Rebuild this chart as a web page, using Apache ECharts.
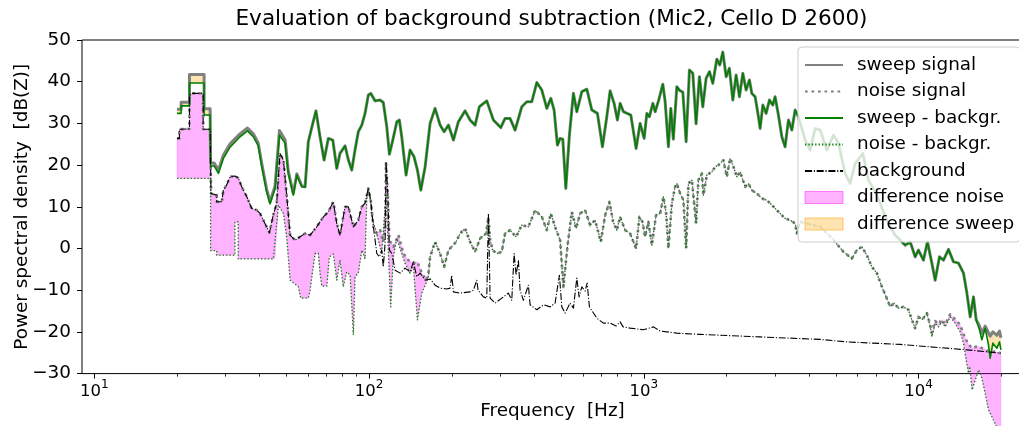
<!DOCTYPE html>
<html>
<head>
<meta charset="utf-8">
<script src="https://cdn.jsdelivr.net/npm/echarts@6/dist/echarts.min.js"></script>
<style>
  html, body { margin: 0; padding: 0; background: #fff; }
  #chart { width: 1019px; height: 426px; }
</style>
</head>
<body>
<div id="chart"></div>
<script>
// ---- Sweep recording: low band (signal and background-corrected differ) ----
const sweepLowFreq = [20.0, 20.7, 20.7, 22.2, 22.2, 25.1, 25.1, 26.4, 26.5, 27.3,
  28.3, 29.5, 31.2, 33.9, 36.1, 37.9, 39.5, 40.7, 42.4, 43.6,
  45.5, 47.2, 49.5, 50.8, 53.0, 54.6, 56.9, 58.5];
const sweepSigLow = [33.4, 33.4, 35.1, 35.1, 41.7, 41.7, 33.5, 33.5, 20.5, 20.5,
  18.8, 22.4, 25.1, 27.5, 28.9, 27.5, 25.3, 20.3, 14.2, 11.2,
  15.0, 28.3, 26.0, 18.6, 13.2, 17.9, 15.0, 14.8];
const sweepBgLow = [32.4, 32.4, 34.2, 34.2, 39.7, 39.7, 32.0, 32.0, 19.8, 19.8,
  18.0, 21.6, 24.3, 26.8, 28.2, 26.8, 24.6, 19.6, 13.6, 10.7,
  14.4, 27.2, 25.2, 18.0, 12.8, 17.6, 14.8, 14.7];

// ---- Sweep: mid band, signal and corrected curve coincide ----
const sweepMidFreq = [60.1, 62.4, 64.1, 66.3, 68.6, 71.1, 73.8, 76.3, 78.4, 81.8,
  84.1, 86.5, 88.9, 91.4, 94.1, 96.7, 99.4, 101.4, 105.2, 109.7,
  112.7, 116.0, 118.6, 122.0, 126.2, 128.9, 131.5, 136.4, 141.0, 145.8,
  150.0, 154.3, 160.0, 166.8, 173.9, 181.4, 187.6, 194.5, 202.8, 211.4,
  223.6, 233.2, 243.2, 252.1, 268.2, 283.5, 301.6, 312.6, 326.0, 340.1,
  359.7, 375.1, 391.2, 407.9, 425.4, 443.6, 458.8, 471.6, 484.8, 495.9,
  507.3, 520.2, 536.1, 554.4, 570.4, 594.9, 620.4, 647.0, 678.0, 707.1,
  733.5, 754.1, 779.8, 801.7, 820.1, 843.1, 896.9, 937.6, 969.6, 1003,
  1026, 1048, 1079, 1100, 1131, 1173, 1196, 1229, 1254, 1281,
  1319, 1350, 1387, 1426, 1466, 1508, 1550, 1594, 1640, 1686,
  1734, 1783, 1844, 1891, 1939, 1994, 2049, 2109, 2168, 2229,
  2293, 2357, 2424, 2473, 2542, 2614, 2651, 2712, 2788, 2866,
  2949, 3006, 3090, 3180, 3268, 3361, 3458, 3555, 3655, 3866,
  4032, 4205, 4385, 4639, 4902, 5110, 5405, 5637, 5880, 6271,
  6572, 7053, 7452, 7771, 8220, 8575, 8940, 9322, 9721, 9993,
  10420, 10777, 11180, 11495, 11918, 12323, 12853, 13403, 13976, 14573,
  14996, 15416, 15849];
const sweepMidDb = [25.6, 30.0, 33.0, 26.8, 21.2, 26.4, 26.0, 19.2, 22.8, 24.6,
  21.2, 18.8, 23.6, 28.0, 29.6, 32.4, 36.8, 37.2, 35.4, 35.6,
  35.0, 29.2, 22.6, 26.0, 30.4, 30.8, 26.8, 17.6, 23.6, 22.0,
  18.8, 14.0, 19.6, 30.0, 33.6, 29.6, 28.0, 29.6, 26.0, 30.4,
  33.0, 30.8, 29.6, 34.0, 35.4, 30.8, 29.0, 31.2, 31.2, 28.4,
  34.0, 35.2, 35.2, 39.8, 38.0, 33.6, 36.0, 33.2, 24.8, 26.4,
  26.2, 14.4, 27.2, 37.2, 32.8, 37.6, 38.2, 33.2, 32.4, 24.4,
  31.6, 37.8, 34.8, 30.8, 34.8, 32.8, 32.0, 24.0, 30.0, 26.4,
  32.4, 31.6, 34.8, 32.8, 35.4, 39.4, 35.2, 24.4, 33.6, 26.2,
  38.8, 37.9, 37.5, 25.6, 42.8, 42.0, 29.9, 41.2, 34.0, 40.8,
  42.4, 39.6, 45.4, 44.0, 47.1, 41.2, 43.2, 35.6, 41.6, 36.4,
  42.0, 38.0, 40.4, 37.2, 36.4, 31.6, 28.8, 34.4, 32.4, 35.6,
  34.4, 36.4, 32.0, 26.8, 24.4, 30.8, 28.4, 33.2, 31.6, 26.0,
  23.6, 28.8, 28.4, 23.6, 27.2, 25.3, 18.0, 15.6, 20.4, 22.8,
  16.4, 12.8, 8.8, 6.0, 3.2, 2.0, 0.8, 1.6, -2.0, -0.4,
  -2.8, 1.6, -3.5, -7.6, -2.0, -2.8, -0.2, -3.2, -3.5, -5.9,
  -10.7, -16.4, -11.6];

// ---- Sweep: top band ----
const sweepHighFreq = [16211, 16665, 17005, 17481, 17971, 18230, 18647, 19285, 19711, 19945];
const sweepSigHigh = [-17.1, -18.6, -20.3, -18.6, -20.2, -21.0, -20.0, -20.8, -19.8, -21.4];
const sweepBgHigh = [-17.1, -19.5, -21.9, -19.1, -23.1, -26.3, -22.7, -23.9, -22.4, -24.3];

// ---- Noise recording: low band ----
const noiseSigLowFreq = [20.0, 20.4, 20.4, 22.2, 22.2, 22.6, 24.9, 24.9, 26.4, 26.6,
  26.8, 27.9, 27.9, 29.1, 29.5, 30.3, 31.2, 32.5, 33.4, 34.4,
  35.9, 37.4, 39.0, 40.1, 41.8, 43.4, 44.8, 46.1, 47.4, 48.8,
  50.2, 51.6, 53.8, 56.1, 58.5, 61.0, 64.5, 68.2, 71.1, 74.1,
  76.3, 78.4, 81.8, 84.1, 87.7, 91.4, 94.1, 96.7, 99.4, 101.4,
  103.7, 106.7, 109.7, 112.7, 114.4, 115.3, 117.0, 118.6, 122.6, 127.9,
  133.4, 139.0, 145.0, 150.0, 155.6, 161.3, 164.4];
const noiseSigLowDb = [26.4, 26.4, 28.6, 28.7, 36.6, 37.2, 37.2, 28.6, 28.6, 13.2,
  12.8, 12.8, 11.2, 11.2, 14.0, 15.2, 17.2, 17.4, 16.9, 14.8,
  12.4, 9.6, 9.2, 8.4, 6.0, 3.8, 8.0, 10.8, 22.8, 21.2,
  12.4, 3.2, 2.0, 2.8, 3.6, 3.2, 5.2, 7.6, 8.8, 11.2,
  6.0, 3.2, 10.0, 10.0, 5.2, 6.8, 10.0, 10.9, 14.4, 11.6,
  5.2, 3.6, 4.4, 1.6, 4.4, 20.4, 12.8, 2.0, 0.4, 3.2,
  -1.2, -2.8, -3.5, -3.2, -5.9, -7.6, -6.0];
const noiseBgLowFreq = [20.0, 26.5, 26.5, 27.9, 27.9, 32.5, 32.5, 33.4, 33.4, 44.8,
  45.5, 46.8, 48.8, 50.2, 51.6, 55.3, 56.4, 60.1, 61.0, 63.6,
  65.4, 66.3, 67.3, 70.2, 71.7, 74.1, 76.3, 78.4, 80.6, 82.9,
  85.3, 87.7, 88.9, 91.4, 94.1, 96.7, 98.1, 99.4, 101.4, 102.3,
  106.7, 111.2, 115.3, 119.9, 122.6, 126.2, 131.5, 135.2, 141.0, 145.0,
  150.0, 155.6, 161.3, 164.4];
const noiseBgLowDb = [16.8, 16.8, -0.5, -0.5, -1.6, -1.6, 6.4, 6.4, -2.5, -2.5,
  -2.4, 10.4, 8.4, 2.4, -7.6, -9.2, -11.9, -11.9, -10.0, -1.2,
  -1.2, -5.9, -9.0, -9.0, -2.0, -1.3, -7.6, -2.8, -9.2, -5.6,
  -6.4, -20.7, -6.8, -5.9, -0.4, -2.4, 11.6, 14.4, 10.9, 7.6,
  3.6, -1.2, 13.0, -14.0, -2.0, 2.4, -1.2, -3.5, -5.9, -4.4,
  -17.1, -10.7, -8.3, -6.8];

// ---- Noise: mid band, signal and corrected curve coincide ----
const noiseMidFreq = [166.8, 173.9, 181.4, 187.6, 194.5, 207.4, 214.4, 223.6, 233.2, 243.2,
  253.6, 266.6, 271.9, 275.8, 282.0, 291.6, 304.1, 312.6, 326.0, 343.0,
  359.7, 380.2, 402.2, 425.4, 443.6, 458.8, 475.5, 495.9, 509.9, 527.2,
  547.0, 567.0, 586.4, 611.6, 637.8, 665.0, 697.5, 723.3, 749.8, 773.4,
  797.8, 820.1, 855.1, 891.8, 937.6, 963.9, 988.5, 1011, 1039, 1070,
  1108, 1147, 1179, 1206, 1229, 1265, 1300, 1319, 1356, 1394,
  1426, 1454, 1496, 1550, 1580, 1627, 1648, 1696, 1769, 1819,
  1869, 1949, 2005, 2062, 2120, 2181, 2242, 2338, 2403, 2473,
  2579, 2690, 2804, 2924, 3049, 3135, 3268, 3409, 3555, 3606,
  3707, 3922, 4385, 4836, 5331, 5717, 5965, 6220, 6484, 6761,
  7053, 7355, 7624, 7884, 8152, 8451, 8814, 9191, 9456, 9721,
  9993, 10309, 10722];
const noiseMidDb = [-2.0, 1.6, -1.2, -4.4, -0.4, 1.6, 3.6, 4.8, 1.6, -0.8,
  2.4, 3.6, 7.5, 2.0, -0.4, -1.2, -0.8, 3.6, 4.4, 2.8,
  5.6, 5.2, 9.2, 7.6, 4.4, 8.4, 5.2, 2.0, -9.2, 0.4,
  8.8, 4.8, 8.4, 9.2, 5.6, 6.8, 1.6, 8.0, 11.2, 6.4,
  4.4, 7.6, 4.4, 3.6, 0.0, 7.6, 6.4, 2.8, 6.4, 0.8,
  8.0, 8.4, 12.4, 8.4, 0.0, 10.8, 14.8, 15.6, 13.2, 11.6,
  0.0, 15.6, 16.4, 6.0, 16.4, 18.0, 12.8, 17.6, 18.4, 19.6,
  20.0, 21.2, 17.2, 21.6, 19.6, 17.2, 18.4, 14.8, 15.6, 14.0,
  13.2, 12.0, 11.6, 10.4, 9.2, 8.4, 7.2, 6.8, 6.0, 3.6,
  6.4, 6.0, 5.2, 2.5, -0.8, -2.4, -0.4, 0.4, -1.6, -4.4,
  -5.9, -9.2, -11.6, -14.0, -13.1, -14.3, -14.0, -14.7, -17.1, -19.1,
  -16.4, -17.1, -15.5];

// ---- Noise: top band ----
const noiseHighFreq = [11025, 11180, 11495, 11817, 12158, 12499, 13034, 13593, 14174, 14573,
  14906, 15197, 15349, 15674, 16073, 16566, 17005, 17481, 17971, 18475,
  18978, 19493, 19945];
const noiseSigHigh = [-18.3, -20.2, -17.4, -18.2, -17.0, -18.2, -15.8, -17.0, -18.3, -20.5,
  -21.9, -23.0, -23.4, -23.9, -23.6, -23.5, -23.9, -24.2, -24.7, -24.7,
  -24.8, -25.0, -25.1];
const noiseBgHigh = [-18.8, -21.2, -17.9, -18.8, -17.6, -18.8, -16.4, -17.9, -20.0, -22.7,
  -26.7, -29.9, -28.3, -33.9, -31.6, -29.1, -31.1, -34.7, -38.7, -40.3,
  -41.9, -43.5, -45.0];

// ---- Background (below ~100 Hz it follows the noise-signal points) ----
const bgUpperFreq = [103.7, 106.7, 109.0, 111.2, 112.7, 114.4, 115.3, 117.0, 118.6, 121.0,
  124.4, 129.7, 135.2, 141.0, 145.0, 149.2, 153.4, 160.0, 166.8, 173.9,
  181.4, 191.8, 197.2, 200.0, 202.8, 214.4, 233.2, 239.8, 246.7, 249.4,
  260.7, 268.2, 271.9, 275.8, 287.6, 304.1, 321.4, 330.7, 337.3, 343.0,
  349.6, 354.6, 364.6, 380.2, 385.6, 407.9, 431.2, 456.1, 475.5, 493.0,
  503.0, 517.1, 539.2, 554.4, 570.4, 581.5, 594.9, 611.6, 622.0, 634.0,
  674.6, 712.8, 754.1, 793.1, 820.1, 841.2, 891.8, 996.8, 1084, 1147,
  1319, 1603, 2651, 4385, 5483, 8575, 14996, 19945];
const bgUpperDb = [5.2, -1.2, -2.0, -0.4, -4.4, 1.2, 20.8, 13.2, -0.4, -1.2,
  -5.2, -5.9, -4.7, -5.6, -3.2, -6.8, -5.9, -7.6, -7.3, -8.8,
  -9.5, -9.7, -9.5, -6.4, -10.4, -10.7, -10.4, -10.0, -7.6, -10.0,
  -11.6, -11.9, 8.4, -11.9, -13.1, -11.9, -10.7, -12.4, -1.2, -6.4,
  -2.8, -10.0, -12.4, -8.8, -13.5, -14.7, -13.5, -14.0, -13.1, -6.4,
  -14.0, -15.5, -13.1, -14.3, -7.1, -11.6, -9.2, -10.2, -8.3, -14.0,
  -16.7, -17.9, -17.9, -18.6, -17.6, -18.8, -19.1, -19.5, -18.8, -19.8,
  -20.3, -20.6, -21.2, -21.8, -22.4, -23.0, -24.3, -25.1];

// ---- Axis ticks ----
const xMinHz = 9.02, xMaxHz = 24000;
const xMajorExp = [1, 2, 3, 4];
const xMinorHz = [20, 30, 40, 50, 60, 70, 80, 90, 200, 300, 400, 500, 600, 700, 800, 900,
  2000, 3000, 4000, 5000, 6000, 7000, 8000, 9000, 20000];
const yMin = -30, yMax = 50, yStep = 10;

// ---- Build point lists (x in log10 Hz) ----
const FONT = 'DejaVu Sans';
const FS = 18.4;
const lg = Math.log10;
const pts = (fs, ds) => fs.map((f, i) => [lg(f), ds[i]]);

const sweepSignal = pts([...sweepLowFreq, ...sweepMidFreq, ...sweepHighFreq],
                        [...sweepSigLow, ...sweepMidDb, ...sweepSigHigh]);
const sweepCorr = pts([...sweepLowFreq, ...sweepMidFreq, ...sweepHighFreq],
                      [...sweepBgLow, ...sweepMidDb, ...sweepBgHigh]);
const noiseSignal = pts([...noiseSigLowFreq, ...noiseMidFreq, ...noiseHighFreq],
                        [...noiseSigLowDb, ...noiseMidDb, ...noiseSigHigh]);
const noiseCorr = pts([...noiseBgLowFreq, ...noiseMidFreq, ...noiseHighFreq],
                      [...noiseBgLowDb, ...noiseMidDb, ...noiseBgHigh]);
const background = pts([...noiseSigLowFreq.slice(0, 50), ...bgUpperFreq],
                       [...noiseSigLowDb.slice(0, 50), ...bgUpperDb]);

// filled band between two curves, mapped through the grid's scales
function band(upper, lower, fill, stroke) {
  return function (params, api) {
    const poly = upper.map(p => api.coord(p))
      .concat(lower.slice().reverse().map(p => api.coord(p)));
    return {
      type: 'polygon',
      shape: { points: poly },
      style: { fill: fill, stroke: stroke, lineWidth: 0.6 }
    };
  };
}

const PINK = 'rgba(255,0,255,0.3)';
const ORANGE = 'rgba(255,165,0,0.3)';
const NO_MARKER = { opacity: 0 };

const lineBase = {
  type: 'line', symbol: 'none', showSymbol: false, animation: false,
  silent: true, emphasis: { disabled: true }, z: 2
};

const chart = echarts.init(document.getElementById('chart'), null, { renderer: 'canvas' });

const gridBox = { left: 82, right: -4, top: 40, bottom: 52.4, outerBoundsMode: 'none', containLabel: false };

chart.setOption({
  animation: false,
  backgroundColor: '#ffffff',
  textStyle: { fontFamily: FONT },
  graphic: [{
    type: 'text', x: 551.5, y: 19, silent: true,
    style: {
      text: 'Evaluation of background subtraction (Mic2, Cello D 2600)',
      fontSize: 21.6, fontFamily: FONT, fill: '#000',
      align: 'center', verticalAlign: 'middle'
    }
  }],
  grid: [
    Object.assign({ show: true, borderColor: '#000', borderWidth: 1, backgroundColor: 'transparent' }, gridBox),
    Object.assign({ show: false }, gridBox)
  ],
  legend: {
    orient: 'vertical', left: 798, top: 47,
    padding: [9, 6, 9, 6], itemGap: 8.5, itemWidth: 38, itemHeight: 12,
    backgroundColor: 'rgba(255,255,255,0.8)', borderColor: '#cccccc', borderWidth: 1, borderRadius: 4,
    selectedMode: false,
    textStyle: { fontSize: FS, fontFamily: FONT, color: '#000', lineHeight: 16, padding: [0, 0, 0, 9] },
    data: [
      { name: 'sweep signal', itemStyle: NO_MARKER },
      { name: 'noise signal', itemStyle: NO_MARKER },
      { name: 'sweep - backgr.', itemStyle: NO_MARKER },
      { name: 'noise - backgr.', itemStyle: NO_MARKER },
      { name: 'background', itemStyle: NO_MARKER },
      { name: 'difference noise', icon: 'rect', itemStyle: { color: PINK, borderColor: 'rgba(255,0,255,0.45)', borderWidth: 1 } },
      { name: 'difference sweep', icon: 'rect', itemStyle: { color: ORANGE, borderColor: 'rgba(255,165,0,0.55)', borderWidth: 1 } }
    ]
  },
  xAxis: [{
    type: 'value', gridIndex: 0, min: lg(xMinHz), max: lg(xMaxHz),
    axisLine: { show: false, onZero: false }, splitLine: { show: false },
    axisTick: { customValues: xMajorExp, length: 5, lineStyle: { color: '#000', width: 1 } },
    axisLabel: {
      customValues: xMajorExp, margin: 5, color: '#000',
      formatter: v => '{b|10}{s|' + Math.round(v) + '}',
      rich: {
        b: { fontSize: 16.5, fontFamily: FONT, color: '#000', lineHeight: 22, verticalAlign: 'bottom' },
        s: { fontSize: 12, fontFamily: FONT, color: '#000', lineHeight: 12, verticalAlign: 'top' }
      }
    },
    name: 'Frequency  [Hz]', nameLocation: 'middle', nameGap: 29, nameMoveOverlap: false,
    nameTextStyle: { fontSize: FS, fontFamily: FONT, color: '#000' }
  }, {
    type: 'value', gridIndex: 1, min: lg(xMinHz), max: lg(xMaxHz),
    axisLine: { show: false, onZero: false }, splitLine: { show: false }, axisLabel: { show: false },
    axisTick: { customValues: xMinorHz.map(lg), length: 3, lineStyle: { color: '#000', width: 0.8 } }
  }],
  yAxis: [{
    type: 'value', gridIndex: 0, min: yMin, max: yMax, interval: yStep,
    axisLine: { show: false, onZero: false }, splitLine: { show: false },
    axisTick: { show: true, length: 5, lineStyle: { color: '#000', width: 1 } },
    axisLabel: {
      fontSize: FS, fontFamily: FONT, color: '#000', margin: 11,
      formatter: v => String(v).replace('-', '\u2212')
    },
    name: 'Power spectral density  [dB(Z)]', nameLocation: 'middle', nameGap: 51, nameRotate: 90,
    nameMoveOverlap: false,
    nameTextStyle: { fontSize: FS, fontFamily: FONT, color: '#000' }
  }, {
    type: 'value', gridIndex: 1, min: yMin, max: yMax, show: false
  }],
  series: [
    {
      name: 'difference noise', type: 'custom', xAxisIndex: 0, yAxisIndex: 0,
      clip: false, silent: true, z: 1, itemStyle: { color: PINK },
      data: [[lg(100), 0]],
      renderItem: band(noiseSignal, noiseCorr, PINK, 'rgba(255,0,255,0.25)')
    },
    {
      name: 'difference sweep', type: 'custom', xAxisIndex: 0, yAxisIndex: 0,
      clip: false, silent: true, z: 1, itemStyle: { color: ORANGE },
      data: [[lg(100), 0]],
      renderItem: band(sweepSignal, sweepCorr, ORANGE, 'rgba(255,165,0,0.25)')
    },
    Object.assign({}, lineBase, {
      name: 'sweep signal', data: sweepSignal,
      itemStyle: { color: '#808080' },
      lineStyle: { color: '#808080', width: 3, join: 'round' }
    }),
    Object.assign({}, lineBase, {
      name: 'noise signal', data: noiseSignal,
      itemStyle: { color: '#808080' },
      lineStyle: { color: '#808080', width: 2.7, type: [2.7, 3.8], join: 'round' }
    }),
    Object.assign({}, lineBase, {
      name: 'sweep - backgr.', data: sweepCorr,
      itemStyle: { color: '#008000' },
      lineStyle: { color: '#008000', width: 1.6, join: 'round' }
    }),
    Object.assign({}, lineBase, {
      name: 'noise - backgr.', data: noiseCorr, clip: false,
      itemStyle: { color: '#008000' },
      lineStyle: { color: '#008000', width: 1.3, type: [1.3, 2.1], join: 'round' }
    }),
    Object.assign({}, lineBase, {
      name: 'background', data: background,
      itemStyle: { color: '#000' },
      lineStyle: { color: '#000', width: 1.1, type: [7, 1.8, 1.1, 1.8], join: 'round' }
    })
  ]
});
</script>
</body>
</html>
